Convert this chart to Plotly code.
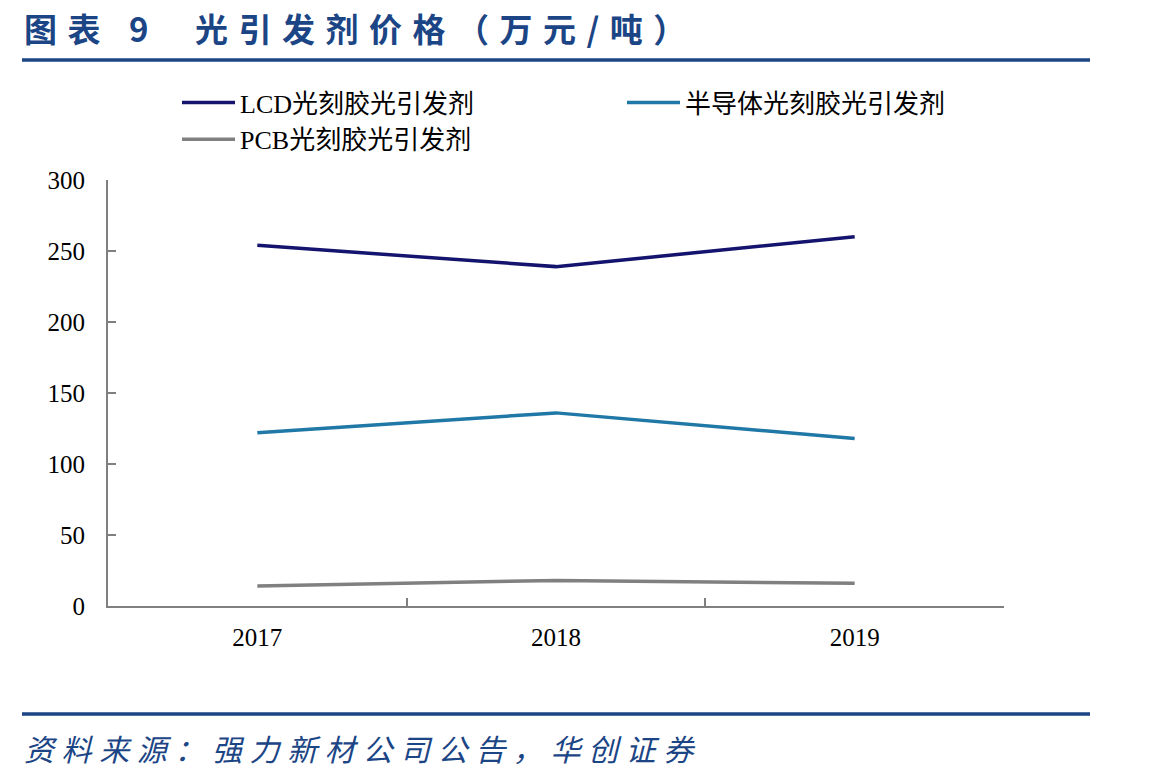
import plotly.graph_objects as go

years = ["2017", "2018", "2019"]
lcd = [254, 239, 260]
semi = [122, 136, 118]
pcb = [14, 18, 16]
names = ["LCD光刻胶光引发剂", "半导体光刻胶光引发剂", "PCB光刻胶光引发剂"]
colors = ["#14146E", "#1F78A6", "#808080"]
yticks = [0, 50, 100, 150, 200, 250, 300]

W, H = 1149, 783
L, R, T, B = 108, 1004, 180, 606

fig = go.Figure()
for vals, nm, c in zip([lcd, semi, pcb], names, colors):
    fig.add_trace(go.Scatter(x=years, y=vals, name=nm, mode="lines",
                             line=dict(color=c, width=3.5)))

serif = "Liberation Serif, Noto Sans CJK SC"
fig.update_layout(
    width=W, height=H,
    margin=dict(l=L, r=W - R, t=T, b=H - B, autoexpand=False),
    paper_bgcolor="white", plot_bgcolor="white",
    showlegend=True,
    legend=dict(orientation="h",
                x=(177 - L) / (R - L), y=1 + (T - 79) / (B - T),
                xanchor="left", yanchor="top",
                font=dict(family=serif, size=26, color="#000000"),
                entrywidth=377, entrywidthmode="pixels",
                itemwidth=53, tracegroupgap=0),
    xaxis=dict(type="category", range=[-0.5, 2.5], showline=True, linecolor="#808080",
               linewidth=2, ticks="inside", tickson="boundaries", ticklen=8,
               tickcolor="#808080", tickwidth=1.5, showgrid=False, zeroline=False,
               tickfont=dict(family=serif, size=25, color="#000000"),
               ticklabelstandoff=8),
    yaxis=dict(range=[0, 300], tickvals=yticks, showline=True, linecolor="#808080",
               linewidth=2, ticks="inside", ticklen=8, tickcolor="#808080",
               tickwidth=1.5, showgrid=False, zeroline=False,
               tickfont=dict(family=serif, size=25, color="#000000"),
               ticklabelstandoff=16),
)

blue = "#1B4585"
fig.add_shape(type="line", xref="paper", yref="paper",
              x0=(22 - L) / (R - L), x1=(1090 - L) / (R - L),
              y0=1 + (T - 60) / (B - T), y1=1 + (T - 60) / (B - T),
              line=dict(color=blue, width=3.5))
fig.add_shape(type="line", xref="paper", yref="paper",
              x0=(22 - L) / (R - L), x1=(1090 - L) / (R - L),
              y0=-(714 - B) / (B - T), y1=-(714 - B) / (B - T),
              line=dict(color=blue, width=3.5))

fig.add_annotation(xref="paper", yref="paper", x=(22 - L) / (R - L), y=1 + (T - 28) / (B - T),
                   xanchor="left", yanchor="middle", showarrow=False,
                   text='<b><span style="letter-spacing:10.5px">图表 9  光引发剂价格（万元/吨）</span></b>',
                   font=dict(family="Noto Sans CJK SC", size=33, color=blue))
fig.add_annotation(xref="paper", yref="paper", x=(22 - L) / (R - L), y=-(748 - B) / (B - T),
                   xanchor="left", yanchor="middle", showarrow=False,
                   text='<span style="letter-spacing:7.6px">资料来源：强力新材公司公告，华创证券</span>',
                   font=dict(family="Noto Sans CJK SC", size=30, color=blue, style="italic"))

fig.write_html("out.html")
